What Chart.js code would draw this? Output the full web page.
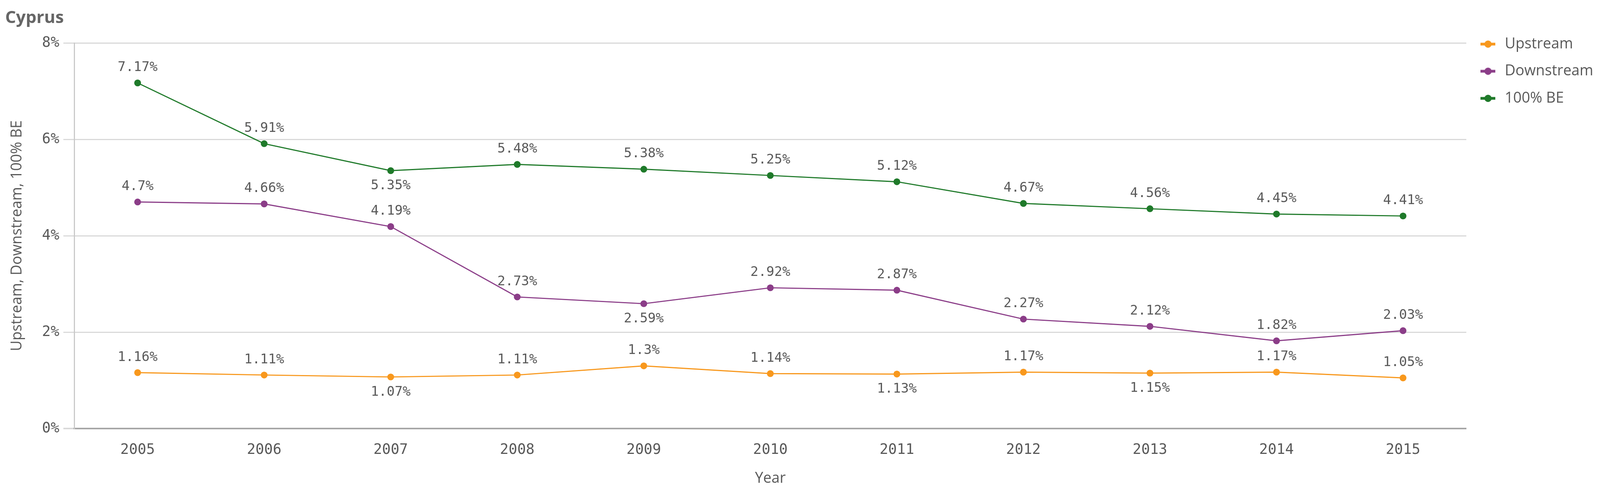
<!DOCTYPE html>
<html>
<head>
<meta charset="utf-8">
<script src="https://cdn.jsdelivr.net/npm/chart.js@4.4.0/dist/chart.umd.min.js"></script>
<style>
  html, body { margin: 0; padding: 0; background: #fff; overflow: hidden; }
  #wrap { position: relative; }
</style>
</head>
<body>
<div id="wrap"><canvas id="chart"></canvas></div>
<script>
const years = ['2005','2006','2007','2008','2009','2010','2011','2012','2013','2014','2015'];
const upstream   = [1.16, 1.11, 1.07, 1.11, 1.3, 1.14, 1.13, 1.17, 1.15, 1.17, 1.05];
const downstream = [4.7, 4.66, 4.19, 2.73, 2.59, 2.92, 2.87, 2.27, 2.12, 1.82, 2.03];
const fullBE     = [7.17, 5.91, 5.35, 5.48, 5.38, 5.25, 5.12, 4.67, 4.56, 4.45, 4.41];
const seriesNames = ['Upstream', 'Downstream', '100% BE'];
const yMax = 8, yStep = 2;

// years whose value label sits under the point instead of above
const labelBelow = [['2007','2011','2013'], ['2009'], ['2007']];

const colors = ['#f8981d', '#8b3d88', '#1f7a2a'];
const textGray = '#595959';
const monoFont = '"DejaVu Sans Mono", monospace';
const sansFont = '"Open Sans", sans-serif';

// layout was measured on the 4368x1276 picture, scale it to the real window
const W = window.innerWidth, H = window.innerHeight;
const sx = W / 4368, sy = H / 1276, fs = (sx + sy) / 2;
const wrap = document.getElementById('wrap');
wrap.style.width = W + 'px';
wrap.style.height = H + 'px';

// legend geometry
const legFont = 39 * fs;
const legPad = 69.5 * sy - legFont;
const legBox = 105 * sx - legPad - legFont / 2;
const plotRight = 4003 * sx;
const meas = document.createElement('canvas').getContext('2d');
meas.font = legFont + 'px ' + sansFont;
const legText = Math.max.apply(null, seriesNames.map(function(n) { return meas.measureText(n).width; }));
const legWidth = legPad + legBox + legFont / 2 + legText + 10;
const padRight = Math.max(0, W - plotRight - legWidth);

function legendMarker(color) {
  const c = document.createElement('canvas');
  const w = Math.round(40 * sx), h = Math.round(20 * sy);
  c.width = w; c.height = h;
  const g = c.getContext('2d');
  g.strokeStyle = color;
  g.lineWidth = 7 * sy;
  g.beginPath(); g.moveTo(0, h / 2); g.lineTo(w, h / 2); g.stroke();
  g.fillStyle = color;
  g.beginPath(); g.arc(w / 2, h / 2, 9.5 * fs, 0, Math.PI * 2); g.fill();
  return c;
}

const valueLabels = {
  id: 'valueLabels',
  afterDatasetsDraw(chart) {
    const ctx = chart.ctx;
    ctx.save();
    ctx.font = (35 * fs) + 'px ' + monoFont;
    ctx.fillStyle = textGray;
    ctx.textAlign = 'center';
    ctx.textBaseline = 'middle';
    chart.data.datasets.forEach(function(ds, i) {
      const meta = chart.getDatasetMeta(i);
      meta.data.forEach(function(pt, j) {
        const dy = (labelBelow[i].includes(years[j]) ? 39 : -39) * sy;
        ctx.fillText(ds.data[j] + '%', pt.x, pt.y + dy);
      });
    });
    ctx.restore();
  }
};

function makeSet(label, values, color) {
  return {
    label: label,
    data: values,
    borderColor: color,
    backgroundColor: color,
    borderWidth: 3 * fs,
    pointRadius: 9 * fs,
    pointHoverRadius: 9 * fs,
    pointBorderWidth: 0,
    pointBackgroundColor: color,
    tension: 0
  };
}

const titleFont = 45 * fs;
const tickFont = 38 * fs;
const axisTitleFont = 39 * fs;

new Chart(document.getElementById('chart'), {
  type: 'line',
  data: {
    labels: years,
    datasets: [
      makeSet(seriesNames[0], upstream, colors[0]),
      makeSet(seriesNames[1], downstream, colors[1]),
      makeSet(seriesNames[2], fullBE, colors[2])
    ]
  },
  plugins: [valueLabels],
  options: {
    responsive: true,
    maintainAspectRatio: false,
    animation: false,
    layout: { padding: { left: 14 * sx, right: padRight, top: 0, bottom: 0 } },
    plugins: {
      tooltip: { enabled: false },
      title: {
        display: true,
        text: 'Cyprus',
        align: 'start',
        color: '#666',
        font: { family: sansFont, size: titleFont, weight: 'bold', lineHeight: 1.2 },
        padding: { top: 47 * sy - titleFont * 0.6, bottom: 110 * sy - 47 * sy - titleFont * 0.6 }
      },
      legend: {
        position: 'right',
        align: 'start',
        title: { display: true, text: '', font: { size: 10, lineHeight: 1 }, padding: { top: 113 * sy - legPad - legFont / 2 - 10, bottom: 0 } },
        labels: {
          usePointStyle: true,
          pointStyleWidth: legBox,
          padding: legPad,
          color: textGray,
          font: { family: sansFont, size: legFont },
          generateLabels: function(chart) {
            const items = Chart.defaults.plugins.legend.labels.generateLabels(chart);
            items.forEach(function(it, i) { it.pointStyle = legendMarker(colors[i]); });
            return items;
          }
        }
      }
    },
    scales: {
      x: {
        offset: true,
        afterFit: function(scale) { scale.height = 178 * sy; },
        grid: { display: false, drawTicks: false },
        border: { display: true, color: '#a6a6a6', width: 4 * fs },
        ticks: { color: textGray, font: { family: monoFont, size: tickFont }, padding: 55 * sy - tickFont * 0.6 },
        title: {
          display: true, text: 'Year', color: textGray,
          font: { family: sansFont, size: axisTitleFont },
          padding: { top: 0, bottom: 50 * sy - axisTitleFont * 0.6 }
        }
      },
      y: {
        min: 0,
        max: yMax,
        afterFit: function(scale) { scale.width = 189 * sx; },
        ticks: {
          stepSize: yStep,
          color: textGray,
          padding: 11 * sx,
          font: { family: monoFont, size: tickFont },
          callback: function(v) { return v + '%'; }
        },
        grid: {
          color: function(c) { return c.tick && c.tick.value === 0 ? '#a6a6a6' : '#d9d9d9'; },
          lineWidth: function(c) { return (c.tick && c.tick.value === 0 ? 4 : 3) * fs; },
          tickColor: '#d9d9d9',
          tickLength: 30 * sx
        },
        border: { display: true, color: '#c8c8c8', width: 3 * fs },
        title: {
          display: true,
          text: 'Upstream, Downstream, 100% BE',
          color: textGray,
          font: { family: sansFont, size: axisTitleFont },
          padding: { top: 33 * sx - axisTitleFont * 0.6, bottom: 0 }
        }
      }
    }
  }
});
</script>
</body>
</html>
